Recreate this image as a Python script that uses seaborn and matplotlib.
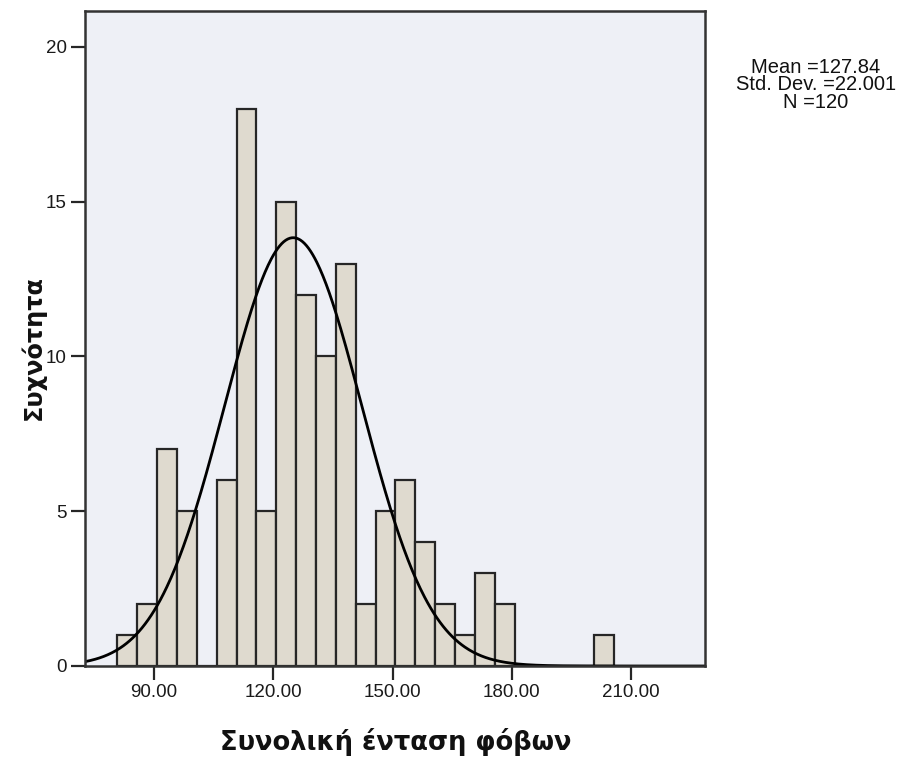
import numpy as np
import pandas as pd
import matplotlib
matplotlib.use("Agg")
import matplotlib.pyplot as plt
import seaborn as sns

# Histogram of total phobia intensity scores (bin width 5)
bin_start = 80.75
bin_width = 5.0
counts = [1, 2, 7, 5, 0, 6, 18, 5, 15, 12, 10, 13, 2, 5, 6, 4, 2, 1, 3, 2,
          0, 0, 0, 0, 1]

# Summary statistics shown beside the chart
mean_value = 127.84
std_value = 22.001
n_value = 120

# Fitted normal curve as drawn over the bars
curve_mean = 125.0
curve_sd = 17.3

x_ticks = [90, 120, 150, 180, 210]
x_tick_labels = ["90.00", "120.00", "150.00", "180.00", "210.00"]
y_ticks = [0, 5, 10, 15, 20]
y_tick_labels = ["0", "5", "10", "15", "20"]

x_label = "Συνολική ένταση φόβων"
y_label = "Συχνότητα"

edges = [bin_start + bin_width * i for i in range(len(counts) + 1)]
centers = [(a + b) / 2 for a, b in zip(edges[:-1], edges[1:])]
df = pd.DataFrame({"score": centers, "count": counts})

sns.set_style("white")
plt.rcParams["font.family"] = ["Liberation Sans", "DejaVu Sans"]

W, H = 904, 761
fig = plt.figure(figsize=(W / 100, H / 100), dpi=100)
fig.patch.set_facecolor("white")
ax_l, ax_r, ax_t, ax_b = 85, 705, 11, 666
ax = fig.add_axes([ax_l / W, 1 - ax_b / H, (ax_r - ax_l) / W, (ax_b - ax_t) / H])
ax.set_facecolor("#EEF0F6")

sns.histplot(data=df, x="score", weights="count", bins=edges,
             color="#DFDACF", edgecolor="#262626", linewidth=1.6,
             alpha=1.0, ax=ax)

xmin, xmax = 72.6, 228.65
xs = np.linspace(xmin, xmax, 600)
ys = (n_value * bin_width / (curve_sd * np.sqrt(2 * np.pi))
      * np.exp(-0.5 * ((xs - curve_mean) / curve_sd) ** 2))
sns.lineplot(x=xs, y=ys, color="black", linewidth=2.0, ax=ax)

ax.set_xlim(xmin, xmax)
ax.set_ylim(0, 21.16)
ax.set_xticks(x_ticks)
ax.set_xticklabels(x_tick_labels)
ax.set_yticks(y_ticks)
ax.set_yticklabels(y_tick_labels)
ax.tick_params(axis="both", direction="out", length=10, width=1.6,
               color="#262626", labelsize=13.5, labelcolor="#1a1a1a", pad=3,
               bottom=True, left=True)
ax.set_xlabel("")
ax.set_ylabel("")
for s in ax.spines.values():
    s.set_visible(True)
    s.set_color("#333333")
    s.set_linewidth(1.8)

fig.text(395.5 / W, 1 - 742 / H, x_label, ha="center", va="center",
         fontsize=18.5, fontweight="bold", family=["DejaVu Sans"], color="#111111")
fig.text(33 / W, 1 - 347 / H, y_label, ha="center", va="center", rotation=90,
         fontsize=17.3, fontweight="bold", family=["DejaVu Sans"], color="#111111")

stats = f"Mean ={mean_value:.2f}\nStd. Dev. ={std_value:.3f}\nN ={n_value}"
fig.text(816 / W, 1 - 85 / H, stats, ha="center", va="center",
         multialignment="center", fontsize=14.5, linespacing=0.9,
         color="#111111")

fig.savefig("out.png", dpi=100)
